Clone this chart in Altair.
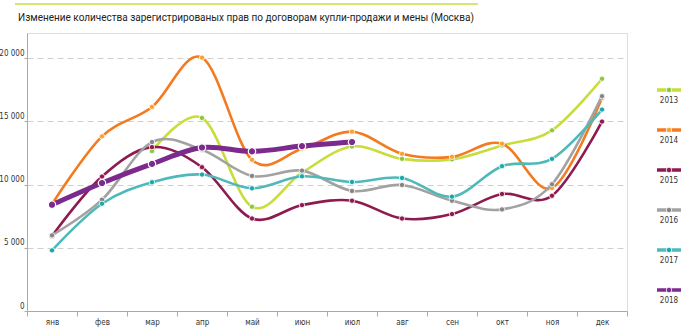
import altair as alt
import pandas as pd

months = ["янв", "фев", "мар", "апр", "май", "июн", "июл", "авг", "сен", "окт", "ноя", "дек"]
years = ["2013", "2014", "2015", "2016", "2017", "2018"]

v2013 = [None, None, 12650, 15280, 8250, 10950, 13020, 12040, 12000, 13100, 14300, 18380]
v2014 = [8460, 13820, 16150, 20050, 11960, 12840, 14190, 12440, 12200, 13240, 9730, 16850]
v2015 = [5940, 10640, 12970, 11380, 7320, 8380, 8730, 7320, 7670, 9260, 9120, 14990]
v2016 = [5990, 8810, 13370, 12760, 10690, 11110, 9500, 9970, 8730, 8040, 10030, 17000]
v2017 = [4800, 8490, 10190, 10800, 9710, 10660, 10210, 10530, 9050, 11460, 12040, 15940]
v2018 = [8410, 10130, 11640, 12940, 12630, 13050, 13370, None, None, None, None, None]
series = [v2013, v2014, v2015, v2016, v2017, v2018]

line_colors = ["#c8dc3a", "#f47a20", "#8e1b50", "#a2a2a2", "#4fb9b9", "#7c2a8e"]
dot_colors = ["#8dc63f", "#f9a12e", "#8e1b50", "#858585", "#16a9ae", "#7c2a8e"]

title_text = "Изменение количества зарегистрированых прав по договорам купли-продажи и мены (Москва)"

rows = []
for y, vals in zip(years, series):
    for m, v in zip(months, vals):
        if v is not None:
            rows.append({"month": m, "year": y, "value": v})
df = pd.DataFrame(rows)

FONT = "DejaVu Sans Condensed, Liberation Sans Narrow, Roboto Condensed, sans-serif"

x_enc = alt.X(
    "month:N",
    sort=months,
    bandPosition=0.5,
    scale=alt.Scale(type="band", domain=months, paddingInner=0, paddingOuter=0),
    axis=alt.Axis(
        title=None, tickBand="extent", tickSize=5, tickColor="#aaa",
        domainColor="#aaa", labelFontSize=8, labelColor="#333", labelFont=FONT,
        labelPadding=2, labelAngle=0, grid=False,
    ),
)
y_enc = alt.Y(
    "value:Q",
    scale=alt.Scale(domain=[0, 22000], nice=False),
    axis=alt.Axis(
        title=None, values=[0, 5000, 10000, 15000, 20000],
        labelExpr="replace(format(datum.value, ','), ',', ' ')",
        grid=True, gridDash=[6, 4], gridColor="#cfcfcf", gridWidth=1,
        tickSize=3, tickColor="#aaa", domainColor="#aaa",
        labelFontSize=8, labelColor="#333", labelFont=FONT,
        labelPadding=0, labelBaseline="bottom", labelOffset=-1,
    ),
)

base = alt.Chart(df)
layers = []
for i, y in enumerate(years):
    thick = y == "2018"
    ln = base.transform_filter(alt.datum.year == y).mark_line(
        interpolate="cardinal", strokeWidth=5 if thick else 2.6,
        color=line_colors[i], strokeCap="round",
    ).encode(x=x_enc, y=y_enc)
    pt = base.transform_filter(alt.datum.year == y).mark_point(
        filled=True, opacity=1, size=55 if thick else 28,
        color=dot_colors[i], stroke="white", strokeWidth=1.2 if thick else 0.8,
    ).encode(x=x_enc, y=y_enc)
    layers += [ln, pt]

# title and decorative top rule
tdf = pd.DataFrame({"t": [title_text]})
title = alt.Chart(tdf).mark_text(
    align="left", baseline="alphabetic", fontSize=10, font="Roboto",
    color="#222",
).encode(x=alt.value(-9), y=alt.value(-12), text="t:N")
toprule = alt.Chart(tdf).mark_rule(color="#c8dc3a", strokeWidth=1.5).encode(
    x=alt.value(-12), x2=alt.value(451), y=alt.value(-29)
)
layers += [toprule, title]

# custom legend at right
for i, y in enumerate(years):
    ldf = pd.DataFrame({"year": [y]})
    ys = 57 + 40 * i
    layers.append(alt.Chart(ldf).mark_rule(color=line_colors[i], strokeWidth=3.5).encode(
        x=alt.value(630), x2=alt.value(654), y=alt.value(ys)))
    layers.append(alt.Chart(ldf).mark_point(
        filled=True, opacity=1, size=30, color=dot_colors[i], stroke="white", strokeWidth=0.8
    ).encode(x=alt.value(642), y=alt.value(ys)))
    layers.append(alt.Chart(ldf).mark_text(
        fontSize=8, font=FONT, color="#333", align="center", baseline="middle"
    ).encode(x=alt.value(642), y=alt.value(ys + 11), text="year:N"))

chart = alt.layer(*layers).properties(
    width=600, height=278,
    autosize=alt.AutoSizeParams(type="none"),
    padding={"left": 27, "top": 33, "right": 57, "bottom": 21},
).configure_view(stroke=None).configure(background="white")

chart.save("out.html", embed_options={"renderer": "svg", "actions": False})
